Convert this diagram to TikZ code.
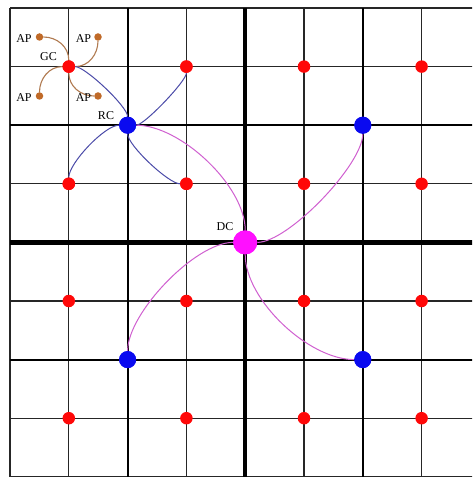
\documentclass[tikz,border=0pt]{standalone}
\usepackage{fontspec}
\setmainfont{Liberation Serif}
\definecolor{dotred}{HTML}{FF0808}
\definecolor{dotblue}{HTML}{0A0AF0}
\definecolor{dotmag}{HTML}{FF10FF}
\definecolor{dotbrown}{HTML}{C06A28}
\definecolor{curvebrown}{HTML}{B07A50}
\definecolor{curveblue}{HTML}{4A4AA8}
\definecolor{curvemag}{HTML}{D060D0}
\begin{document}
\begin{tikzpicture}[x=1pt,y=-1pt,
  thingrid/.style={draw=black!85,line width=1.2pt},
  midgrid/.style={draw=black,line width=2.2pt},
  thickgrid/.style={draw=black,line width=4.5pt},
  reddot/.style={circle,fill=dotred,inner sep=0pt,minimum size=12.5pt},
  bluedot/.style={circle,fill=dotblue,inner sep=0pt,minimum size=17pt},
  magdot/.style={circle,fill=dotmag,inner sep=0pt,minimum size=24pt},
  apdot/.style={circle,fill=dotbrown,inner sep=0pt,minimum size=7.5pt},
  lbl/.style={font=\fontsize{12}{14}\selectfont,inner sep=0pt},
  apline/.style={draw=curvebrown,line width=1.1pt},
  rcline/.style={draw=curveblue,line width=1pt},
  dcline/.style={draw=curvemag,line width=1pt}]
\useasboundingbox[fill=white] (0,0) rectangle (472,478);
% grid
\begin{scope}
\clip (0,0) rectangle (472,478);
\foreach \i in {0,1,3,5,7} \draw[thingrid] ({10+\i*58.8},8) -- ({10+\i*58.8},477);
\foreach \j in {0,1,3,5,7,8} \draw[thingrid] (10,{8+\j*58.6}) -- (473,{8+\j*58.6});
\foreach \i in {2,6} \draw[midgrid] ({10+\i*58.8},8) -- ({10+\i*58.8},477);
\foreach \j in {2,6} \draw[midgrid] (10,{8+\j*58.6}) -- (473,{8+\j*58.6});
\draw[thickgrid] ({10+4*58.8},8) -- ({10+4*58.8},477);
\draw[thickgrid] (10,{8+4*58.6}) -- (473,{8+4*58.6});
\end{scope}
% red dots
\foreach \i/\x in {1/68.8,2/186.4,3/304,4/421.6}
  \foreach \j/\y in {1/66.6,2/183.8,3/301,4/418.2}
    \node[reddot] (r\i\j) at (\x,\y) {};
% blue dots
\node[bluedot] (rc1) at (127.6,125.2) {};
\node[bluedot] (rc2) at (362.8,125.2) {};
\node[bluedot] (rc3) at (127.6,359.6) {};
\node[bluedot] (rc4) at (362.8,359.6) {};
% DC
\node[magdot] (dc) at (245.2,242.4) {};
% AP dots
\node[apdot] (ap1) at (39.5,37) {};
\node[apdot] (ap2) at (98,37) {};
\node[apdot] (ap3) at (39.5,96) {};
\node[apdot] (ap4) at (98,96) {};
% AP curves from GC
\draw[apline] (r11) to[out=90,in=0] (ap1);
\draw[apline] (r11) to[out=0,in=-90] (ap2);
\draw[apline] (r11) to[out=-90,in=180] (ap4);
\draw[apline] (r11) to[out=180,in=90] (ap3);
% RC curves
\draw[rcline] (rc1) to[out=90,in=0,looseness=0.35] (r11);
\draw[rcline] (rc1) to[out=0,in=-90,looseness=0.28] (r21);
\draw[rcline] (rc1) to[out=-90,in=180,looseness=0.4] (r22);
\draw[rcline] (rc1) to[out=180,in=90,looseness=0.5] (r12);
% DC curves
\draw[dcline] (dc) to[out=90,in=0,looseness=0.75] (rc1);
\draw[dcline] (dc) to[out=0,in=-90,looseness=0.52] (rc2);
\draw[dcline] (dc) to[out=-90,in=180,looseness=0.77] (rc4);
\draw[dcline] (dc) to[out=180,in=90,looseness=0.64] (rc3);
% redraw dots on top
\foreach \n in {r11,r21,r22,r12} \fill[dotred] (\n) circle (6.25pt);
\foreach \n in {rc1,rc2,rc3,rc4} \fill[dotblue] (\n) circle (8.5pt);
\fill[dotmag] (dc) circle (12pt);
% labels
\node[lbl] (lap1) at (24,39) {AP};
\node[lbl] (lap2) at (83.5,39) {AP};
\node[lbl] (lap3) at (24,97.5) {AP};
\node[lbl] (lap4) at (83.5,97.5) {AP};
\node[lbl] (lgc) at (48.5,57) {GC};
\node[lbl] (lrc) at (106,116) {RC};
\node[lbl] (ldc) at (225,227) {DC};
\end{tikzpicture}
\end{document}
